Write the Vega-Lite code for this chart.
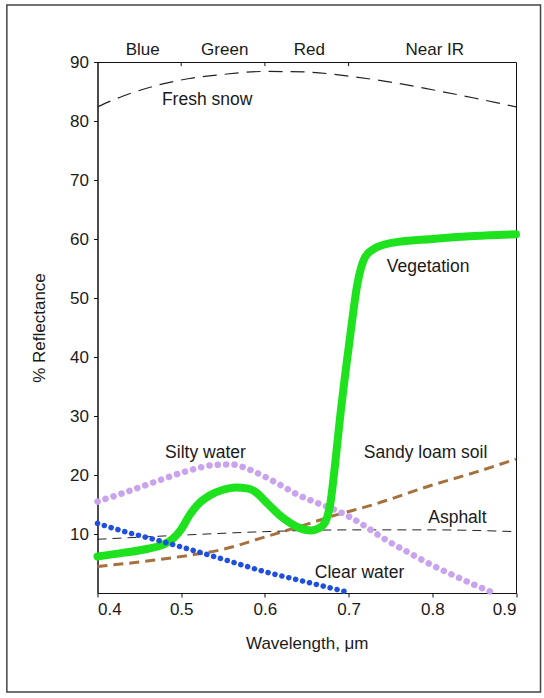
{
  "$schema": "https://vega.github.io/schema/vega-lite/v6.json",
  "width": 418.5,
  "height": 531,
  "autosize": {"type": "none"},
  "padding": {"left": 97.5, "top": 62, "right": 28, "bottom": 105},
  "background": "white",
  "config": {
    "font": "Liberation Sans",
    "view": {"stroke": "#111", "strokeWidth": 1},
    "axis": {
      "domainColor": "#111",
      "tickColor": "#111",
      "tickSize": 4,
      "grid": false,
      "labelFontSize": 17,
      "labelColor": "#1a1a1a",
      "titleFontSize": 17,
      "titleFontWeight": "normal",
      "titleColor": "#1a1a1a"
    }
  },
  "datasets": {
    "curves": [
      {"s": "snow", "x": 0.40, "y": 82.4},
      {"s": "snow", "x": 0.43, "y": 84.2},
      {"s": "snow", "x": 0.47, "y": 86.0},
      {"s": "snow", "x": 0.51, "y": 87.2},
      {"s": "snow", "x": 0.55, "y": 87.9},
      {"s": "snow", "x": 0.60, "y": 88.4},
      {"s": "snow", "x": 0.65, "y": 88.3},
      {"s": "snow", "x": 0.70, "y": 87.6},
      {"s": "snow", "x": 0.75, "y": 86.6},
      {"s": "snow", "x": 0.80, "y": 85.3},
      {"s": "snow", "x": 0.85, "y": 83.9},
      {"s": "snow", "x": 0.90, "y": 82.4},

      {"s": "asphalt", "x": 0.40, "y": 9.1},
      {"s": "asphalt", "x": 0.50, "y": 9.8},
      {"s": "asphalt", "x": 0.60, "y": 10.4},
      {"s": "asphalt", "x": 0.70, "y": 10.7},
      {"s": "asphalt", "x": 0.80, "y": 10.7},
      {"s": "asphalt", "x": 0.90, "y": 10.4},

      {"s": "sandy", "x": 0.40, "y": 4.5},
      {"s": "sandy", "x": 0.47, "y": 5.6},
      {"s": "sandy", "x": 0.51, "y": 6.4},
      {"s": "sandy", "x": 0.55, "y": 7.4},
      {"s": "sandy", "x": 0.60, "y": 9.5},
      {"s": "sandy", "x": 0.64, "y": 11.2},
      {"s": "sandy", "x": 0.68, "y": 13.0},
      {"s": "sandy", "x": 0.73, "y": 15.0},
      {"s": "sandy", "x": 0.80, "y": 18.3},
      {"s": "sandy", "x": 0.85, "y": 20.4},
      {"s": "sandy", "x": 0.90, "y": 22.7},

      {"s": "silty", "x": 0.40, "y": 15.5},
      {"s": "silty", "x": 0.43, "y": 16.9},
      {"s": "silty", "x": 0.47, "y": 18.9},
      {"s": "silty", "x": 0.51, "y": 20.8},
      {"s": "silty", "x": 0.54, "y": 21.7},
      {"s": "silty", "x": 0.56, "y": 21.8},
      {"s": "silty", "x": 0.58, "y": 21.0},
      {"s": "silty", "x": 0.60, "y": 19.7},
      {"s": "silty", "x": 0.62, "y": 18.2},
      {"s": "silty", "x": 0.64, "y": 16.6},
      {"s": "silty", "x": 0.66, "y": 15.4},
      {"s": "silty", "x": 0.68, "y": 14.3},
      {"s": "silty", "x": 0.70, "y": 13.0},
      {"s": "silty", "x": 0.72, "y": 11.3},
      {"s": "silty", "x": 0.74, "y": 9.4},
      {"s": "silty", "x": 0.77, "y": 7.0},
      {"s": "silty", "x": 0.80, "y": 4.7},
      {"s": "silty", "x": 0.83, "y": 2.7},
      {"s": "silty", "x": 0.85, "y": 1.4},
      {"s": "silty", "x": 0.87, "y": 0.2},

      {"s": "veg", "x": 0.40, "y": 6.2},
      {"s": "veg", "x": 0.43, "y": 6.8},
      {"s": "veg", "x": 0.46, "y": 7.5},
      {"s": "veg", "x": 0.48, "y": 8.3},
      {"s": "veg", "x": 0.49, "y": 9.2},
      {"s": "veg", "x": 0.50, "y": 10.8},
      {"s": "veg", "x": 0.51, "y": 13.2},
      {"s": "veg", "x": 0.52, "y": 15.0},
      {"s": "veg", "x": 0.535, "y": 16.6},
      {"s": "veg", "x": 0.55, "y": 17.5},
      {"s": "veg", "x": 0.565, "y": 17.9},
      {"s": "veg", "x": 0.58, "y": 17.7},
      {"s": "veg", "x": 0.59, "y": 17.0},
      {"s": "veg", "x": 0.60, "y": 15.6},
      {"s": "veg", "x": 0.61, "y": 14.2},
      {"s": "veg", "x": 0.62, "y": 12.9},
      {"s": "veg", "x": 0.63, "y": 11.9},
      {"s": "veg", "x": 0.64, "y": 11.1},
      {"s": "veg", "x": 0.655, "y": 10.6},
      {"s": "veg", "x": 0.665, "y": 11.0},
      {"s": "veg", "x": 0.672, "y": 12.0},
      {"s": "veg", "x": 0.678, "y": 15.0},
      {"s": "veg", "x": 0.684, "y": 22.0},
      {"s": "veg", "x": 0.69, "y": 30.0},
      {"s": "veg", "x": 0.695, "y": 36.0},
      {"s": "veg", "x": 0.70, "y": 41.5},
      {"s": "veg", "x": 0.705, "y": 47.0},
      {"s": "veg", "x": 0.71, "y": 52.0},
      {"s": "veg", "x": 0.715, "y": 55.2},
      {"s": "veg", "x": 0.72, "y": 57.0},
      {"s": "veg", "x": 0.73, "y": 58.3},
      {"s": "veg", "x": 0.75, "y": 59.3},
      {"s": "veg", "x": 0.80, "y": 60.0},
      {"s": "veg", "x": 0.85, "y": 60.5},
      {"s": "veg", "x": 0.90, "y": 60.8},

      {"s": "clear", "x": 0.40, "y": 11.8},
      {"s": "clear", "x": 0.43, "y": 10.5},
      {"s": "clear", "x": 0.47, "y": 9.0},
      {"s": "clear", "x": 0.51, "y": 7.4},
      {"s": "clear", "x": 0.56, "y": 5.3},
      {"s": "clear", "x": 0.60, "y": 3.6},
      {"s": "clear", "x": 0.64, "y": 2.2},
      {"s": "clear", "x": 0.68, "y": 0.8},
      {"s": "clear", "x": 0.70, "y": 0.1}
    ],
    "labels": [
      {"label": "Fresh snow", "x": 0.531, "y": 83.6},
      {"label": "Vegetation", "x": 0.795, "y": 55.3},
      {"label": "Silty water", "x": 0.529, "y": 23.7},
      {"label": "Sandy loam soil", "x": 0.792, "y": 23.7},
      {"label": "Asphalt", "x": 0.83, "y": 12.7},
      {"label": "Clear water", "x": 0.713, "y": 3.4}
    ],
    "bands": [
      {"label": "Blue", "x": 0.454, "y": 90},
      {"label": "Green", "x": 0.552, "y": 90},
      {"label": "Red", "x": 0.653, "y": 90},
      {"label": "Near IR", "x": 0.803, "y": 90}
    ],
    "bandTicks": [
      {"x": 0.5, "y": 90, "y2": 89.3},
      {"x": 0.6, "y": 90, "y2": 89.3},
      {"x": 0.7, "y": 90, "y2": 89.3}
    ],
    "frame": [
      {"x": 0.2917, "x2": 0.9293, "y": -16.8, "y2": 99.66}
    ]
  },
  "layer": [
    {
      "data": {"name": "frame"},
      "mark": {"type": "rect", "fill": "white", "fillOpacity": 0, "stroke": "#444", "strokeWidth": 1.5, "clip": false},
      "encoding": {
        "x": {"field": "x", "type": "quantitative", "scale": {"domain": [0.4, 0.9], "nice": false, "zero": false}},
        "x2": {"field": "x2"},
        "y": {"field": "y", "type": "quantitative", "scale": {"domain": [0, 90], "nice": false, "zero": true}},
        "y2": {"field": "y2"}
      }
    },
    {
      "data": {"name": "bandTicks"},
      "mark": {"type": "rule", "color": "#111", "strokeWidth": 1, "clip": false},
      "encoding": {
        "x": {"field": "x", "type": "quantitative"},
        "y": {"field": "y", "type": "quantitative"},
        "y2": {"field": "y2"}
      }
    },
    {
      "data": {"name": "bands"},
      "mark": {"type": "text", "fontSize": 17, "color": "#1a1a1a", "baseline": "bottom", "dy": -3, "clip": false},
      "encoding": {
        "x": {"field": "x", "type": "quantitative"},
        "y": {"field": "y", "type": "quantitative"},
        "text": {"field": "label"}
      }
    },
    {
      "data": {"name": "curves"},
      "transform": [{"filter": "datum.s === 'sandy'"}],
      "mark": {"type": "line", "color": "#a5713f", "strokeWidth": 3, "strokeDash": [10, 6], "interpolate": "monotone"},
      "encoding": {
        "x": {
          "field": "x",
          "type": "quantitative",
          "axis": {
            "values": [0.4, 0.5, 0.6, 0.7, 0.8, 0.9],
            "format": ".1f",
            "title": "Wavelength, μm",
            "labelPadding": 4,
            "titlePadding": 18
          }
        },
        "y": {
          "field": "y",
          "type": "quantitative",
          "axis": {
            "values": [10, 20, 30, 40, 50, 60, 70, 80, 90],
            "title": "% Reflectance",
            "labelPadding": 5,
            "titlePadding": 21
          }
        }
      }
    },
    {
      "data": {"name": "curves"},
      "transform": [{"filter": "datum.s === 'asphalt'"}],
      "mark": {"type": "line", "color": "#222", "strokeWidth": 1, "strokeDash": [9, 6], "interpolate": "monotone"},
      "encoding": {
        "x": {"field": "x", "type": "quantitative"},
        "y": {"field": "y", "type": "quantitative"}
      }
    },
    {
      "data": {"name": "curves"},
      "transform": [{"filter": "datum.s === 'snow'"}],
      "mark": {"type": "line", "color": "#222", "strokeWidth": 1.2, "strokeDash": [14, 8], "interpolate": "monotone"},
      "encoding": {
        "x": {"field": "x", "type": "quantitative"},
        "y": {"field": "y", "type": "quantitative"}
      }
    },
    {
      "data": {"name": "curves"},
      "transform": [{"filter": "datum.s === 'silty'"}],
      "mark": {"type": "line", "color": "#c9a3ee", "strokeWidth": 6.5, "strokeDash": [0.1, 8.3], "strokeCap": "round", "interpolate": "monotone"},
      "encoding": {
        "x": {"field": "x", "type": "quantitative"},
        "y": {"field": "y", "type": "quantitative"}
      }
    },
    {
      "data": {"name": "curves"},
      "transform": [{"filter": "datum.s === 'veg'"}],
      "mark": {"type": "line", "color": "#1fe21f", "strokeWidth": 8, "strokeCap": "round", "strokeJoin": "round", "interpolate": "monotone"},
      "encoding": {
        "x": {"field": "x", "type": "quantitative"},
        "y": {"field": "y", "type": "quantitative"}
      }
    },
    {
      "data": {"name": "curves"},
      "transform": [{"filter": "datum.s === 'clear'"}],
      "mark": {"type": "line", "color": "#1e4fe0", "strokeWidth": 5.5, "strokeDash": [0.1, 7], "strokeCap": "round", "interpolate": "monotone"},
      "encoding": {
        "x": {"field": "x", "type": "quantitative"},
        "y": {"field": "y", "type": "quantitative"}
      }
    },
    {
      "data": {"name": "labels"},
      "mark": {"type": "text", "fontSize": 17.5, "color": "#1a1a1a"},
      "encoding": {
        "x": {"field": "x", "type": "quantitative"},
        "y": {"field": "y", "type": "quantitative"},
        "text": {"field": "label"}
      }
    }
  ]
}
